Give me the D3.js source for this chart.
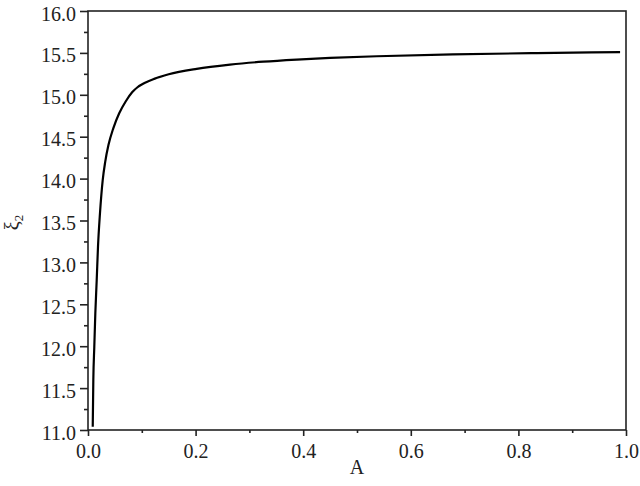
<!DOCTYPE html>
<html>
<head>
<meta charset="utf-8">
<script src="https://cdn.jsdelivr.net/npm/d3@7"></script>
<style>
  body { margin: 0; background: #fff; }
  svg { display: block; }
  svg text { font-family: "Liberation Serif", "Times New Roman", serif; fill: #222; }
</style>
</head>
<body>
<svg id="chart" width="640" height="486"></svg>
<script>
// Data
const aValues  = [0.0088, 0.0099, 0.0117, 0.0136, 0.0162, 0.0186, 0.0223, 0.0273, 0.0320, 0.0380, 0.0470, 0.0580, 0.0700, 0.0820, 0.0920, 0.105, 0.123, 0.150, 0.202, 0.264, 0.326, 0.388, 0.45, 0.537, 0.678, 0.834, 0.989];
const xiValues = [11.04, 11.60, 11.99, 12.39, 12.79, 13.19, 13.59, 13.98, 14.20, 14.40, 14.60, 14.78, 14.92, 15.03, 15.09, 15.14, 15.19, 15.245, 15.31, 15.36, 15.395, 15.42, 15.44, 15.46, 15.482, 15.498, 15.51];
const xMajorTicks = [0.0, 0.2, 0.4, 0.6, 0.8, 1.0];
const xMinorTicks = [0.1, 0.3, 0.5, 0.7, 0.9];
const yMajorTicks = [11.0, 11.5, 12.0, 12.5, 13.0, 13.5, 14.0, 14.5, 15.0, 15.5, 16.0];
const yMinorTicks = [11.25, 11.75, 12.25, 12.75, 13.25, 13.75, 14.25, 14.75, 15.25, 15.75];

const svg = d3.select("#chart");
const L = 88, R = 626, T = 11, B = 430;
const x = d3.scaleLinear().domain([0, 1]).range([L, R]);
const y = d3.scaleLinear().domain([11, 16]).range([B, T]);
const axisColor = "#222";
const serif = '"Liberation Serif", "Times New Roman", serif';

// Frame
svg.append("rect")
  .attr("x", L).attr("y", T).attr("width", R - L).attr("height", B - T)
  .attr("fill", "none").attr("stroke", axisColor).attr("stroke-width", 1.6);

// X axis major
const gx = svg.append("g").attr("transform", `translate(0,${B})`)
  .call(d3.axisBottom(x).tickValues(xMajorTicks).tickSize(6).tickPadding(9).tickFormat(d3.format(".1f")));
// X axis minor
const gxm = svg.append("g").attr("transform", `translate(0,${B})`)
  .call(d3.axisBottom(x).tickValues(xMinorTicks).tickSize(3).tickFormat(""));
// Y axis major
const gy = svg.append("g").attr("transform", `translate(${L},0)`)
  .call(d3.axisLeft(y).tickValues(yMajorTicks).tickSize(8).tickPadding(4).tickFormat(d3.format(".1f")));
// Y axis minor
const gym = svg.append("g").attr("transform", `translate(${L},0)`)
  .call(d3.axisLeft(y).tickValues(yMinorTicks).tickSize(4).tickFormat(""));

[gx, gxm, gy, gym].forEach(g => {
  g.attr("font-family", serif).attr("font-size", 20);
  g.select(".domain").remove();
  g.selectAll(".tick line").attr("stroke", axisColor).attr("stroke-width", 1.6);
  g.selectAll("text").style("font-family", serif).style("font-size", "20px").attr("fill", "#222");
});
gx.selectAll(".tick text").attr("dy", null).attr("y", 28);
gy.selectAll(".tick text").attr("dy", "0.45em");

// Curve
const pts = aValues.map((a, i) => [a, xiValues[i]]);
svg.append("path")
  .datum(pts)
  .attr("fill", "none")
  .attr("stroke", "#000")
  .attr("stroke-width", 2.2)
  .attr("stroke-linejoin", "round")
  .attr("d", d3.line().x(d => x(d[0])).y(d => y(d[1])).curve(d3.curveMonotoneX));

// Axis titles
svg.append("text")
  .attr("x", (L + R) / 2).attr("y", 474)
  .attr("text-anchor", "middle").style("font-size", "20px")
  .text("A");

const yt = svg.append("text")
  .attr("transform", `translate(19,${(T + B) / 2 + 2}) rotate(-90)`)
  .attr("text-anchor", "middle").style("font-size", "20px");
yt.append("tspan").text("ξ");
yt.append("tspan").style("font-size", "13px").attr("dy", 4).text("2");
</script>
</body>
</html>
